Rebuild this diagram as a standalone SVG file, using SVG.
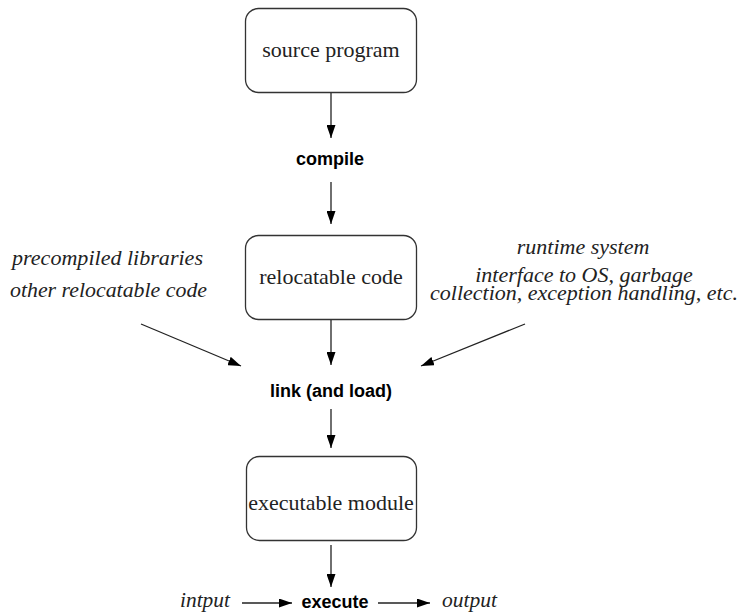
<svg xmlns="http://www.w3.org/2000/svg" width="739" height="612" viewBox="0 0 739 612">
  <style>
    .box { fill: #ffffff; stroke: #333333; stroke-width: 1.3; }
    .boxtext { font-family: "Liberation Serif", "Times New Roman", serif; font-size: 22px; fill: #222222; text-anchor: middle; }
    .step { font-family: "Liberation Sans", Arial, sans-serif; font-size: 18px; font-weight: bold; fill: #000000; text-anchor: middle; }
    .note { font-family: "Liberation Serif", "Times New Roman", serif; font-size: 22px; font-style: italic; fill: #222222; }
    .edge { stroke: #222222; stroke-width: 1.3; fill: none; marker-end: url(#arrow); }
  </style>
  <defs>
    <marker id="arrow" viewBox="0 0 13 9" refX="13" refY="4.5" markerWidth="13" markerHeight="9" markerUnits="userSpaceOnUse" orient="auto">
      <path d="M0,0 L13,4.5 L0,9 z" fill="#000000"/>
    </marker>
  </defs>
  <rect width="739" height="612" fill="#ffffff"/>

  <g id="source-program">
    <rect class="box" x="245.5" y="8.5" width="171" height="84" rx="13"/>
    <text class="boxtext" x="331" y="57">source program</text>
  </g>

  <g id="compile">
    <text class="step" x="330" y="165">compile</text>
  </g>

  <g id="relocatable-code">
    <rect class="box" x="245.5" y="235.5" width="171" height="84" rx="13"/>
    <text class="boxtext" x="331" y="284">relocatable code</text>
  </g>

  <g id="libraries">
    <text class="note" x="12" y="265" textLength="191" lengthAdjust="spacingAndGlyphs">precompiled libraries</text>
    <text class="note" x="10" y="297" textLength="197" lengthAdjust="spacingAndGlyphs">other relocatable code</text>
  </g>

  <g id="runtime-system">
    <text class="note" x="583" y="254" text-anchor="middle">runtime system</text>
    <text class="note" x="584" y="282" text-anchor="middle">interface to OS, garbage</text>
    <text class="note" x="584" y="300" text-anchor="middle">collection, exception handling, etc.</text>
  </g>

  <g id="link">
    <text class="step" x="331" y="397">link (and load)</text>
  </g>

  <g id="executable-module">
    <rect class="box" x="246.5" y="456.5" width="170" height="84" rx="13"/>
    <text class="boxtext" x="331" y="510">executable module</text>
  </g>

  <g id="execute">
    <text class="step" x="335" y="608">execute</text>
  </g>

  <g id="input">
    <text class="note" x="180" y="607" textLength="50" lengthAdjust="spacingAndGlyphs">intput</text>
  </g>

  <g id="output">
    <text class="note" x="442" y="607" textLength="55" lengthAdjust="spacingAndGlyphs">output</text>
  </g>

  <g id="connectors">
    <line class="edge" x1="331" y1="93" x2="331" y2="138"/>
    <line class="edge" x1="331" y1="182" x2="331" y2="224"/>
    <line class="edge" x1="331" y1="320" x2="331" y2="365"/>
    <line class="edge" x1="141" y1="324" x2="241" y2="366"/>
    <line class="edge" x1="525" y1="324" x2="421" y2="366"/>
    <line class="edge" x1="331" y1="409" x2="331" y2="448"/>
    <line class="edge" x1="331" y1="545" x2="331" y2="587"/>
    <line class="edge" x1="242" y1="603" x2="292" y2="603"/>
    <line class="edge" x1="378" y1="603" x2="430" y2="603"/>
  </g>
</svg>
